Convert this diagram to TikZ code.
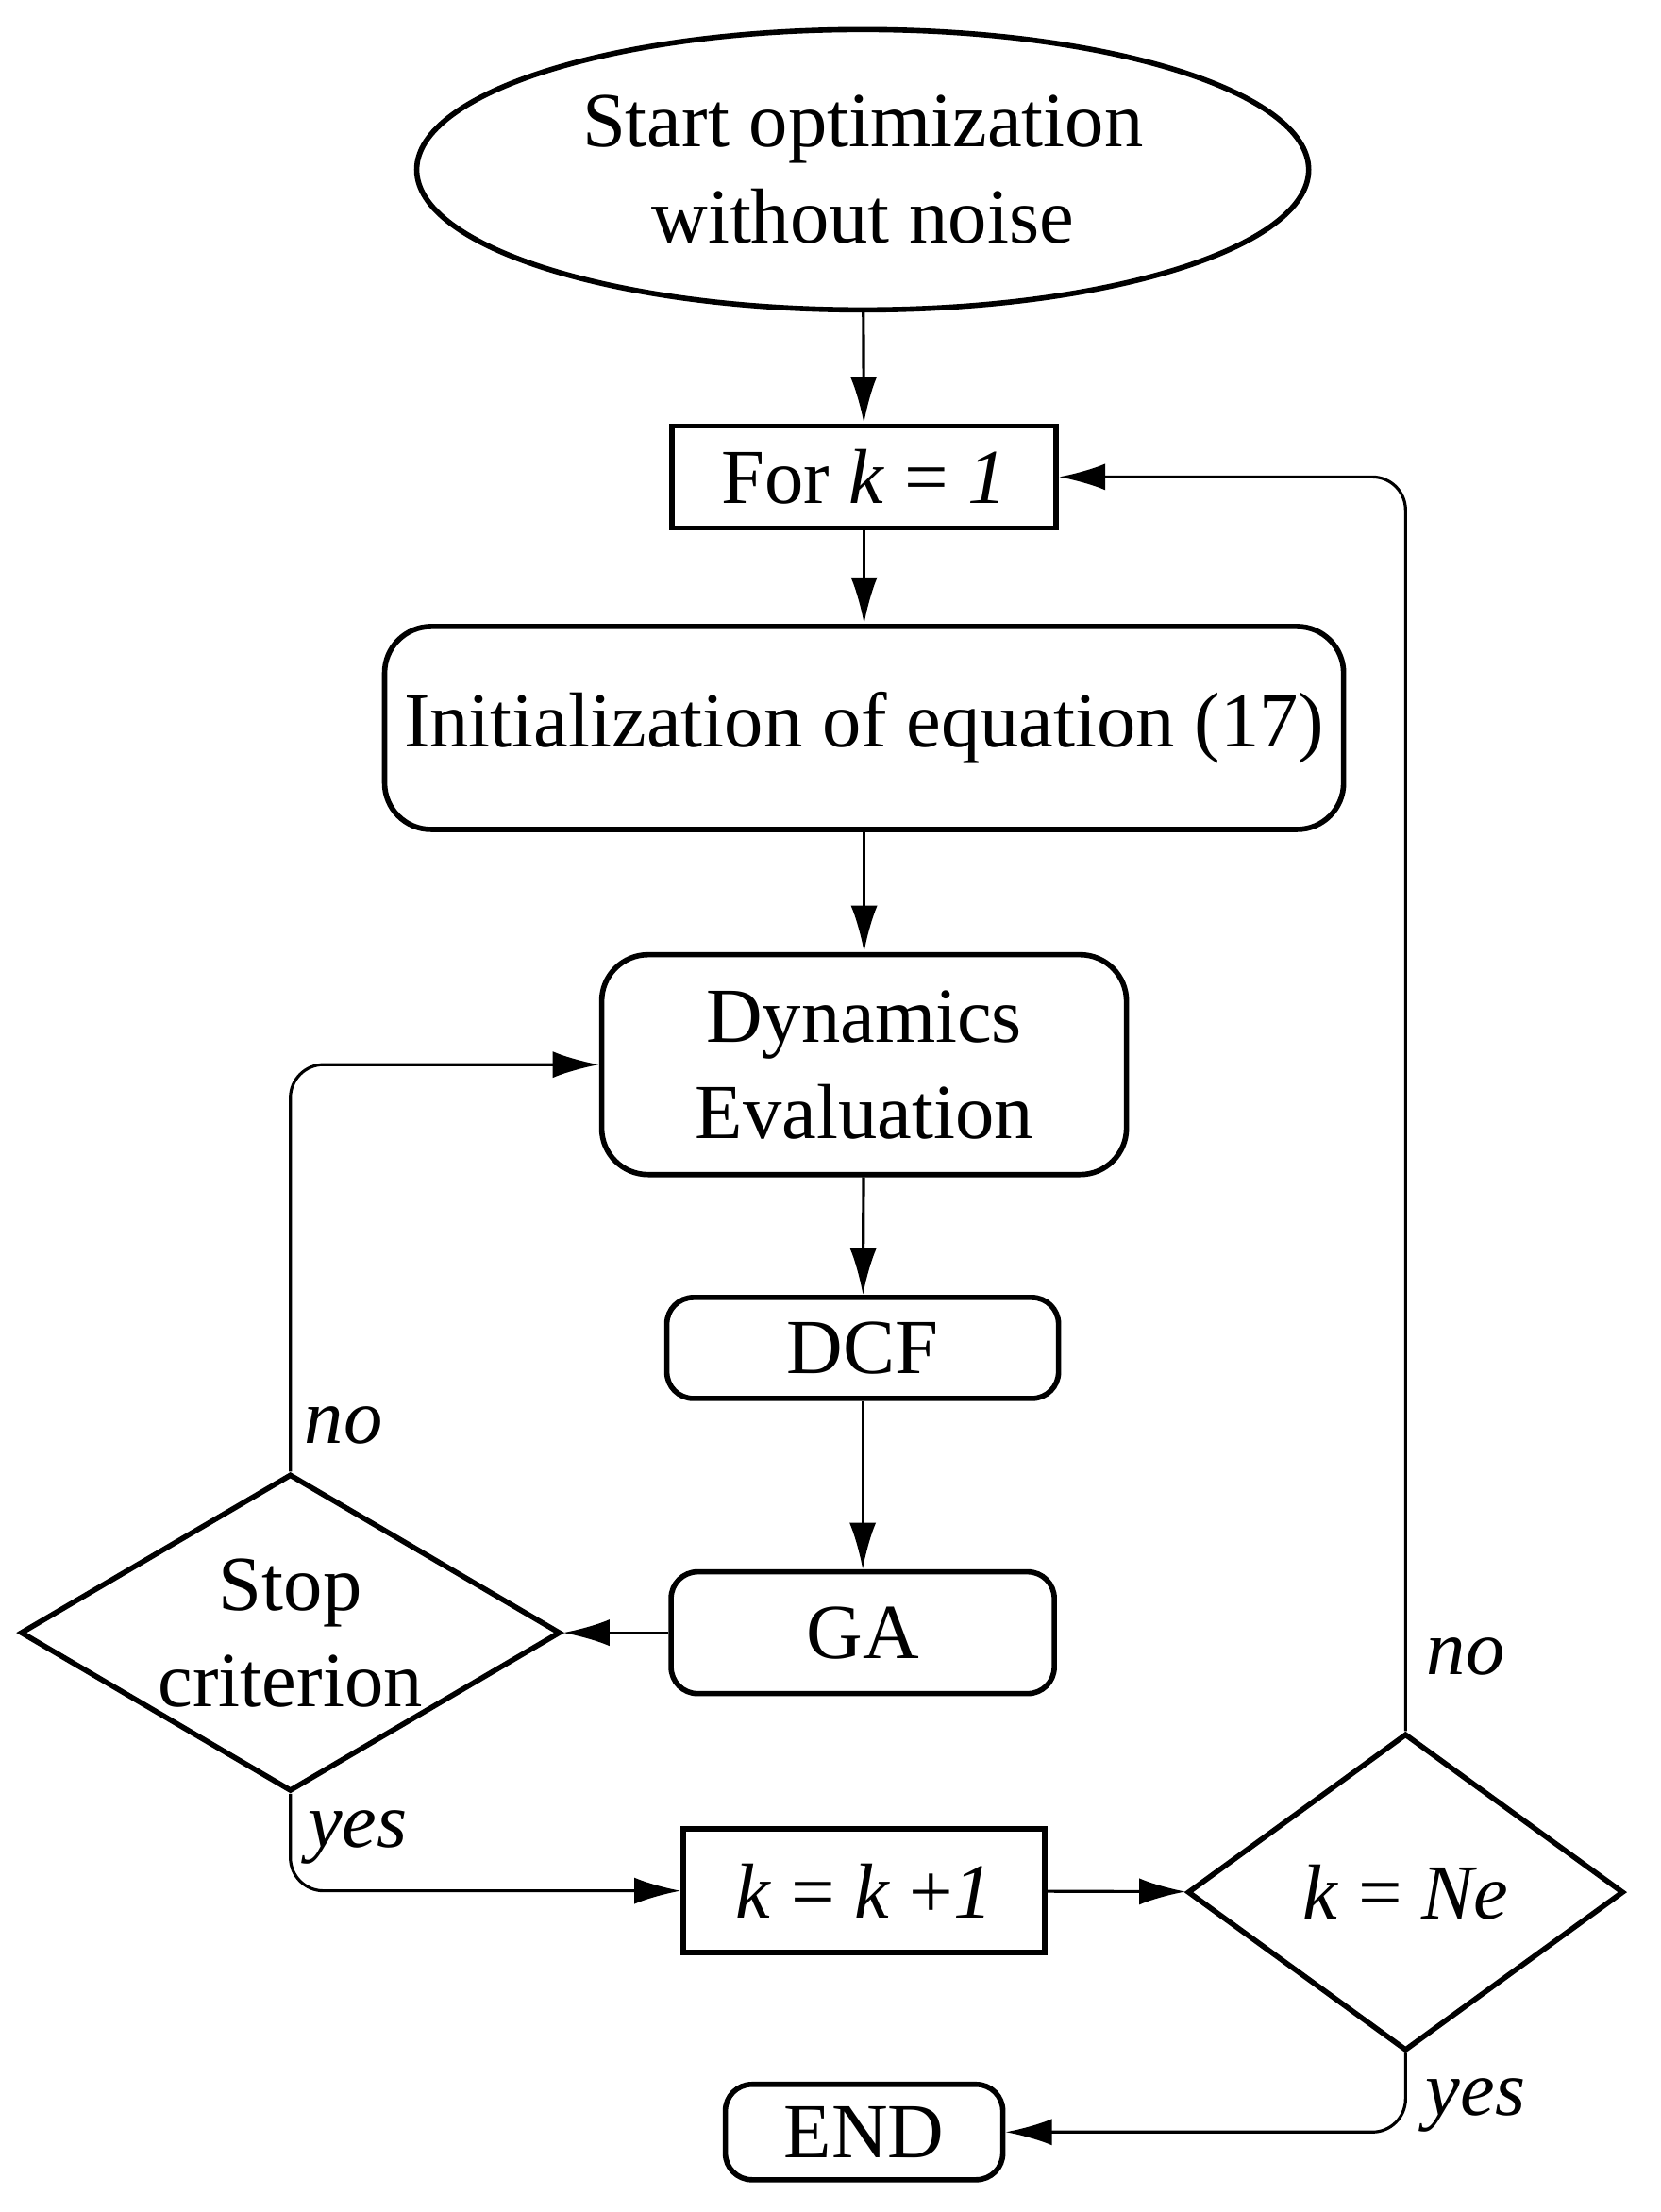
\documentclass[tikz,border=0pt]{standalone}
\usepackage{fontspec}
\setmainfont{Liberation Serif}
\usetikzlibrary{shapes.geometric,arrows.meta}
\begin{document}
\begin{tikzpicture}[x=0.01486cm,y=-0.01486cm,
 font=\fontsize{23.5}{29}\selectfont,
 bx/.style={draw,line width=1.6pt,inner sep=0pt,align=center},
 rb/.style={bx,rounded corners=14pt},
 dm/.style={draw,line width=1.6pt,diamond,inner sep=0pt,align=center},
 ar/.style={draw,line width=0.9pt,-{Latex[length=14pt,width=8pt]},rounded corners=10pt},
 lb/.style={font=\fontsize{23.5}{29}\selectfont\itshape}]
\useasboundingbox (0,-4) rectangle (1184,1573);
\node[draw,line width=1.6pt,ellipse,minimum width=9.45cm,minimum height=2.97cm,align=center] (s) at (615,117) {Start optimization\\without noise};
\node[bx,minimum width=4.07cm,minimum height=1.08cm] (f) at (616,336) {For \textit{k} = \textit{1}};
\node[rb,minimum width=10.16cm,minimum height=2.15cm] (i) at (616,515) {Initialization of equation (17)};
\node[rb,minimum width=5.56cm,minimum height=2.33cm] (d) at (616,755) {Dynamics\\Evaluation};
\node[rb,rounded corners=8pt,minimum width=4.15cm,minimum height=1.07cm] (c) at (615,957) {DCF};
\node[rb,rounded corners=8pt,minimum width=4.06cm,minimum height=1.29cm] (g) at (615,1160) {GA};
\node[dm,aspect=1.7,minimum width=5.72cm,minimum height=3.36cm] (st) at (207,1160) {Stop\\criterion};
\node[bx,minimum width=3.83cm,minimum height=1.31cm] (kk) at (616,1344) {\textit{k} = \textit{k} +\textit{1}};
\node[dm,aspect=1.38,minimum width=4.62cm,minimum height=3.36cm] (ne) at (1002,1345) {\textit{k} = \textit{Ne}};
\node[rb,rounded corners=8pt,minimum width=2.94cm,minimum height=1.01cm] (e) at (616,1516) {END};
\draw[ar] (s) -- (f);
\draw[ar] (f) -- (i);
\draw[ar] (i) -- (d);
\draw[ar] (d) -- (c);
\draw[ar] (c) -- (g);
\draw[ar] (g) -- (st);
\draw[ar] (st.north) -- (207,755) -- (d.west);
\draw[ar] (st.south) -- (207,1344) -- (kk.west);
\draw[ar] (kk) -- (ne);
\draw[ar] (ne.north) -- (1002,336) -- (f.east);
\draw[ar] (ne.south) -- (1002,1516) -- (e.east);
\node[lb] (n1) at (245,1012) {no};
\node[lb] (y1) at (255,1306) {yes};
\node[lb] (n2) at (1045,1177) {no};
\node[lb] (y2) at (1052,1497) {yes};
\end{tikzpicture}
\end{document}
